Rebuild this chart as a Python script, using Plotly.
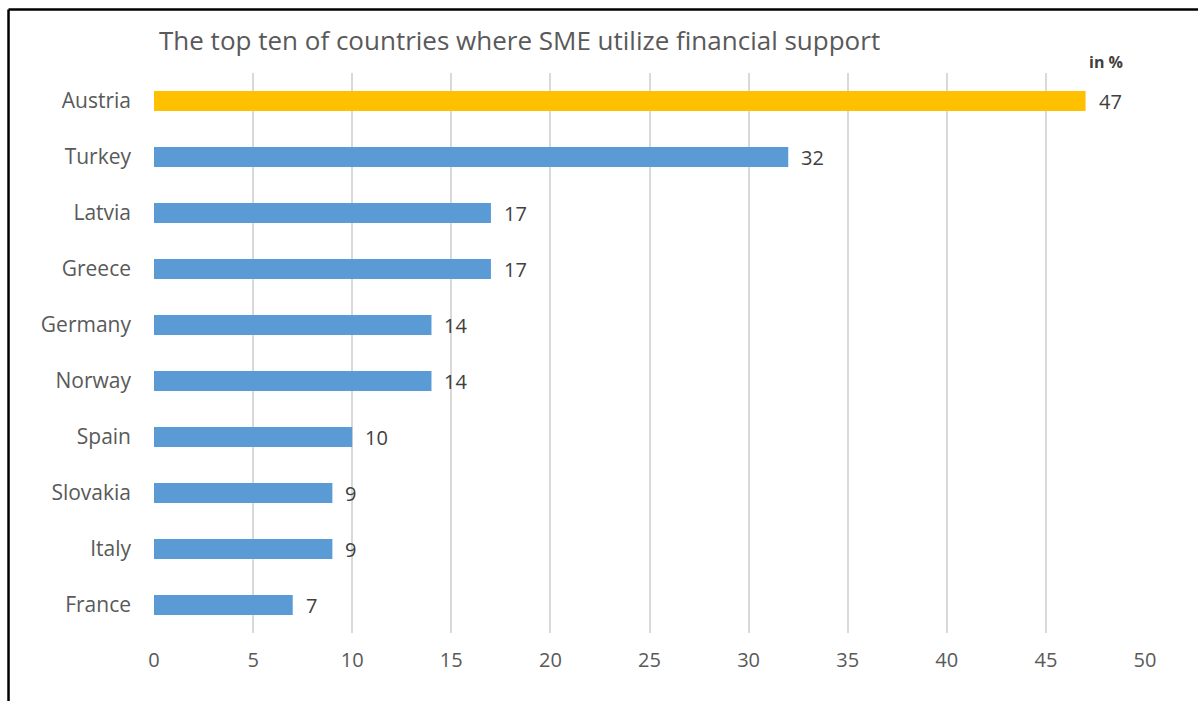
import plotly.graph_objects as go

# Share of SMEs using financial support, top ten countries
countries = ["Austria", "Turkey", "Latvia", "Greece", "Germany",
             "Norway", "Spain", "Slovakia", "Italy", "France"]
shares = [47, 32, 17, 17, 14, 14, 10, 9, 9, 7]
highlight = "Austria"

x_ticks = [0, 5, 10, 15, 20, 25, 30, 35, 40, 45, 50]

GOLD = "#FFC000"
BLUE = "#5B9BD5"
TEXT = "#595959"
FONT = "Open Sans, Liberation Sans, sans-serif"

colors = [GOLD if c == highlight else BLUE for c in countries]

fig = go.Figure()
fig.add_trace(go.Bar(
    x=shares,
    y=countries,
    orientation="h",
    marker=dict(color=colors, line=dict(width=0)),
    width=0.36,
    hoverinfo="x+y",
))

# value labels next to the bar ends
for c, v in zip(countries, shares):
    fig.add_annotation(
        x=v, y=c, xref="x", yref="y",
        text=str(v), showarrow=False,
        xanchor="left", xshift=11,
        font=dict(family=FONT, size=20, color="#404040", weight=500),
    )

fig.add_annotation(
    x=47, y=1.0, xref="x", yref="paper",
    text="<b>in %</b>", showarrow=False,
    xanchor="left", yanchor="bottom", xshift=1, yshift=-2,
    font=dict(family=FONT, size=16, color="#404040"),
)

# frame around the chart (top and left edges)
fig.add_shape(type="line", xref="paper", yref="paper",
              x0=-0.1468, x1=1.06, y0=1.1135, y1=1.1135,
              line=dict(color="black", width=2.5))
fig.add_shape(type="line", xref="paper", yref="paper",
              x0=-0.1468, x1=-0.1468, y0=1.1135, y1=-0.2,
              line=dict(color="black", width=2.5))

fig.update_layout(
    width=1198, height=701,
    margin=dict(l=154, r=53, t=73, b=68),
    paper_bgcolor="white",
    plot_bgcolor="white",
    showlegend=False,
    title=dict(
        text="The top ten of countries where SME utilize financial support",
        x=159 / 1198, xanchor="left",
        y=1 - 41 / 701, yanchor="middle",
        font=dict(family=FONT, size=26, color=TEXT),
    ),
    xaxis=dict(
        range=[0, 50],
        tickvals=x_ticks,
        showgrid=True, gridcolor="#D9D9D9", gridwidth=2,
        zeroline=False, showline=False,
        ticks="", ticklabelstandoff=13,
        tickfont=dict(family=FONT, size=20, color=TEXT),
    ),
    yaxis=dict(
        categoryorder="array",
        categoryarray=countries[::-1],
        range=[-0.5, 9.5],
        showgrid=False, zeroline=False, showline=False,
        ticks="", ticklabelstandoff=22,
        tickfont=dict(family=FONT, size=21, color=TEXT),
    ),
)

fig.write_html("out.html")
